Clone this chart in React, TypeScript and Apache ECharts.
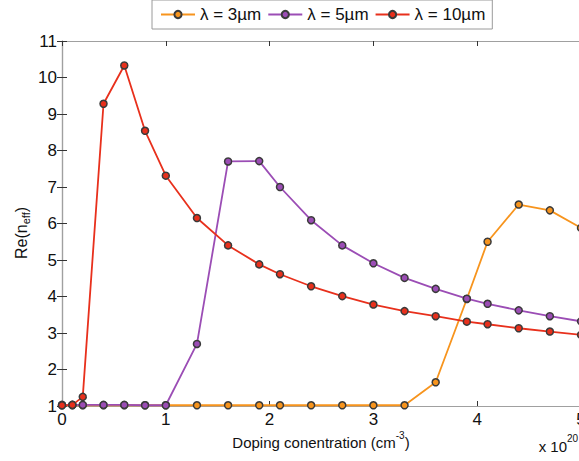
import React, { useEffect, useRef } from "react";
import * as echarts from "echarts";

const dopingX = [0, 0.1, 0.2, 0.4, 0.6, 0.8, 1.0, 1.3, 1.6, 1.9, 2.1, 2.4, 2.7, 3.0, 3.3, 3.6, 3.9, 4.1, 4.4, 4.7, 5.0];
const lambda3 = [1.02, 1.02, 1.02, 1.02, 1.02, 1.02, 1.02, 1.02, 1.02, 1.02, 1.02, 1.02, 1.02, 1.02, 1.02, 1.65, 3.93, 5.5, 6.52, 6.36, 5.88];
const lambda5 = [1.03, 1.03, 1.03, 1.03, 1.03, 1.02, 1.02, 2.7, 7.7, 7.71, 7.0, 6.09, 5.4, 4.91, 4.51, 4.21, 3.94, 3.8, 3.62, 3.46, 3.32];
const lambda10 = [1.02, 1.03, 1.25, 9.28, 10.33, 8.54, 7.31, 6.15, 5.4, 4.88, 4.61, 4.28, 4.01, 3.78, 3.6, 3.46, 3.31, 3.24, 3.13, 3.04, 2.95];
const seriesNames = ["λ = 3µm", "λ = 5µm", "λ = 10µm"];
const seriesColors = ["#F7941D", "#9B4DB5", "#E8301C"];

const FONT = "Arial";

function measure(text: string, size: number): number {
  const c = document.createElement("canvas").getContext("2d");
  if (!c) return text.length * size * 0.55;
  c.font = `${size}px Arial`;
  return c.measureText(text).width;
}

export default function App() {
  const ref = useRef<HTMLDivElement>(null);
  useEffect(() => {
    if (!ref.current) return;
    const chart = echarts.init(ref.current, null, { renderer: "svg" });
    const values = [lambda3, lambda5, lambda10];
    const axisCommon = {
      axisLine: { show: true, lineStyle: { color: "#a0a0a0", width: 1.2 } },
      axisTick: { show: true, inside: true, length: 5, lineStyle: { color: "#333", width: 1 } },
      splitLine: { show: false },
    };

    // x-axis title pieces
    const xMain = "Doping conentration (cm";
    const xMainW = measure(xMain, 15);
    const xSupW = measure("-3", 10);
    const xCloseW = measure(")", 15);
    const xTotal = xMainW + xSupW + xCloseW;
    const xStart = 321 - xTotal / 2;

    // y-axis title pieces
    const yMain = "Re(n";
    const yMainW = measure(yMain, 16);
    const ySubW = measure("eff", 11);
    const yCloseW = measure(")", 16);
    const yTotal = yMainW + ySubW + yCloseW;

    const txt = (text: string, x: number, y: number, size: number, align = "left") => ({
      type: "text",
      x,
      y,
      style: {
        text,
        fontSize: size,
        fontFamily: FONT,
        fill: "#111",
        textAlign: align,
        textVerticalAlign: "middle",
      },
    });

    chart.setOption({
      animation: false,
      backgroundColor: "#ffffff",
      textStyle: { fontFamily: FONT },
      legend: {
        left: 152,
        top: 0,
        itemWidth: 34,
        itemHeight: 9,
        itemGap: 6,
        padding: [6, 7, 6, 8],
        borderColor: "#9a9a9a",
        borderWidth: 1,
        textStyle: { fontSize: 17, color: "#111", fontFamily: FONT },
        data: seriesNames,
      },
      grid: { left: 62, right: -2, top: 41, bottom: 55, outerBoundsMode: "none" },
      xAxis: [
        {
          type: "value",
          min: 0,
          max: 5,
          interval: 1,
          position: "bottom",
          ...axisCommon,
          axisLabel: { fontSize: 17, color: "#111", margin: 5, fontFamily: FONT },
        },
        {
          type: "value",
          min: 0,
          max: 5,
          interval: 1,
          position: "top",
          ...axisCommon,
          axisLabel: { show: false },
        },
      ],
      yAxis: [
        {
          type: "value",
          min: 1,
          max: 11,
          interval: 1,
          position: "left",
          ...axisCommon,
          axisLabel: { fontSize: 17, color: "#111", margin: 5, fontFamily: FONT },
        },
        {
          type: "value",
          min: 1,
          max: 11,
          interval: 1,
          position: "right",
          ...axisCommon,
          axisLabel: { show: false },
        },
      ],
      series: values.map((v, i) => ({
        name: seriesNames[i],
        type: "line",
        data: dopingX.map((x, j) => [x, v[j]]),
        symbol: "circle",
        symbolSize: 7,
        showSymbol: true,
        lineStyle: { color: seriesColors[i], width: 1.8 },
        itemStyle: { color: seriesColors[i], borderColor: "#3a3a3a", borderWidth: 1.5 },
        z: 2 + i,
      })),
      graphic: [
        txt(xMain, xStart, 442, 15),
        txt("-3", xStart + xMainW, 435, 10),
        txt(")", xStart + xMainW + xSupW, 442, 15),
        txt("x 10", 567, 446, 15, "right"),
        txt("20", 567, 438, 10),
        {
          type: "group",
          x: 21,
          y: 233,
          rotation: Math.PI / 2,
          children: [
            txt(yMain, -yTotal / 2, 0, 16),
            txt("eff", -yTotal / 2 + yMainW, 5, 11),
            txt(")", -yTotal / 2 + yMainW + ySubW, 0, 16),
          ],
        },
      ],
    });
    return () => chart.dispose();
  }, []);
  return (
    <div
      ref={ref}
      style={{ position: "fixed", left: 0, top: 0, width: 579, height: 461, background: "#fff" }}
    />
  );
}
